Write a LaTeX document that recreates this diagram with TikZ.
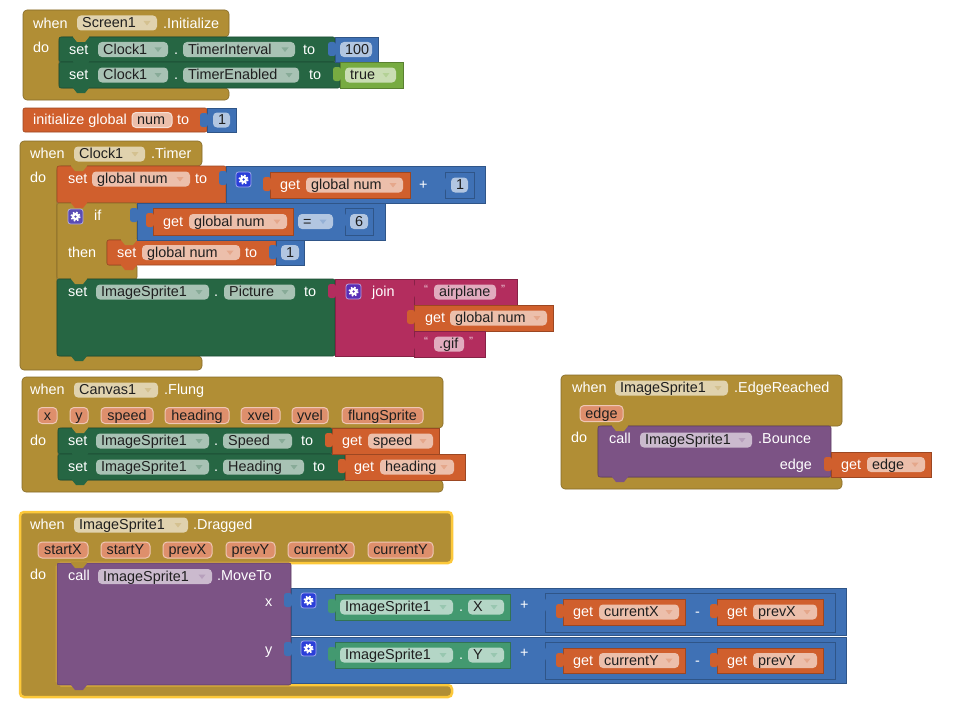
\documentclass[tikz,border=0pt]{standalone}
\usepackage{fontspec}
\setmainfont{Liberation Sans}
\definecolor{cEv}{HTML}{B18E35}
\definecolor{cSet}{HTML}{266643}
\definecolor{cGet}{HTML}{439970}
\definecolor{cVar}{HTML}{D05F2D}
\definecolor{cMath}{HTML}{3F71B5}
\definecolor{cLogic}{HTML}{77AB41}
\definecolor{cText}{HTML}{B32D5E}
\definecolor{cProc}{HTML}{7C5385}
\definecolor{cSel}{HTML}{FCC83A}
\definecolor{gMath}{HTML}{2B3FD9}
\definecolor{gIf}{HTML}{5A4CB4}
\definecolor{gJoin}{HTML}{5A2FB6}
\newcounter{nn}
\tikzset{
 wtxt/.style={anchor=west, inner sep=0pt, text=white, text height=11pt, text depth=1.4pt, font=\fontsize{14.4}{16}\selectfont},
 ptxt/.style={anchor=west, inner sep=0pt, text=black!88, text height=11pt, text depth=1.4pt, font=\fontsize{14.4}{16}\selectfont},
 qtxt/.style={anchor=west, inner sep=0pt, text=white!75!cText, font=\fontsize{12}{12}\selectfont},
 blk/.style={line width=0.6pt},
}
\newcommand\wt[3]{\stepcounter{nn}\node[wtxt] (n\thenn) at (#1,#2) {#3};}
\newcommand\wtr[3]{\stepcounter{nn}\node[wtxt,anchor=east] (n\thenn) at (#1,#2) {#3};}
\newcommand\qt[3]{\stepcounter{nn}\node[qtxt] (n\thenn) at (#1,#2) {#3};}
\newcommand\pl[6]{\fill[#1!40!white, rounded corners=4pt] (#2,#4-7.5) rectangle (#3,#4+7.5);
 \stepcounter{nn}\node[ptxt] (n\thenn) at (#2+5,#4) {#5};
 \ifnum#6=1\relax\fill[#1!55!white] (#3-13.5,#4-2) -- (#3-6.5,#4-2) -- (#3-10,#4+2.5) -- cycle;\fi}
\newcommand\prm[4]{\filldraw[fill=cVar!70!white, draw=cVar!35!white, line width=1pt, rounded corners=4pt] (#1,#3-8) rectangle (#2,#3+8);
 \stepcounter{nn}\node[ptxt,anchor=center] (n\thenn) at ({(#1+#2)/2},#3) {#4};}
\newcommand\tb[3]{\fill[#1, rounded corners=2.5pt] (#2-7,#3+5) rectangle (#2+1,#3+19);}
\newcommand\vb[5]{\filldraw[fill=#1, draw=#1!75!black, blk] (#2,#3) rectangle (#4,#5); \tb{#1}{#2}{#3}}
\newcommand\sbk[5]{\filldraw[fill=#1, draw=#1!75!black, blk, rounded corners=2pt] (#2,#3) rectangle (#4,#5);}
\newcommand\bump[3]{\fill[#1] (#2,#3-0.8) -- (#2,#3) -- (#2+4,#3+5) -- (#2+12,#3+5) -- (#2+16,#3) -- (#2+16,#3-0.8) -- cycle;}
\newcommand\ev[8]{\filldraw[fill=cEv, draw=cEv!75!black, blk, rounded corners=4pt, #8] (#1,#2) -- (#3,#2) -- (#3,#4) -- (#5,#4) -- (#5,#6) -- (#3,#6) -- (#3,#7) -- (#1,#7) -- cycle;}
\newcommand\gear[3]{\filldraw[fill=#1, draw=#1!45!white, line width=0.8pt, rounded corners=2.5pt] (#2,#3) rectangle (#2+15,#3+15);
 \draw[white, line width=1.8pt, dash pattern=on 1.6pt off 1.8pt] (#2+7.5,#3+7.5) circle (4.3);
 \fill[white, even odd rule] (#2+7.5,#3+7.5) circle (3.7) (#2+7.5,#3+7.5) circle (1.5);}
\begin{document}
\begin{tikzpicture}[x=1pt,y=-1pt]
\fill[white] (0,0) rectangle (957,709);
\useasboundingbox (0,0) rectangle (957,709);

% ---------- Screen1.Initialize ----------
\ev{23}{10}{229}{37}{59}{88}{100}{}
\wt{33}{23.5}{when}
\pl{cEv}{77}{157}{23}{Screen1}{1}
\wt{163}{23.5}{.Initialize}
\wt{33}{48}{do}
\sbk{cSet}{59}{37}{335}{62}
\sbk{cSet}{59}{62}{340}{88}
\bump{cEv}{73}{37}
\bump{cSet}{73}{62}
\bump{cSet}{73}{88}
\wt{69}{49.5}{set}
\pl{cSet}{98}{168}{49.5}{Clock1}{1}
\wt{174}{49.5}{.}
\pl{cSet}{183}{295}{49.5}{TimerInterval}{1}
\wt{303}{49.5}{to}
\vb{cMath}{335}{37}{378}{62}
\pl{cMath}{340}{372}{49.5}{100}{0}
\wt{69}{75}{set}
\pl{cSet}{98}{168}{75}{Clock1}{1}
\wt{174}{75}{.}
\pl{cSet}{183}{299}{75}{TimerEnabled}{1}
\wt{309}{75}{to}
\vb{cLogic}{340}{62}{403}{88}
\pl{cLogic}{345}{396}{75}{true}{1}

% ---------- initialize global ----------
\filldraw[fill=cVar, draw=cVar!75!black, blk, rounded corners=2pt] (23,108) rectangle (207,132);
\wt{33}{120}{initialize global}
\filldraw[fill=cVar!40!white, draw=cVar!20!white, line width=1pt, rounded corners=4pt] (132,112.5) rectangle (172,127.5);
\stepcounter{nn}\node[ptxt] (n\thenn) at (137,120) {num};
\wt{177}{120}{to}
\vb{cMath}{207}{108}{236}{132}
\pl{cMath}{213}{230}{120}{1}{0}

% ---------- Clock1.Timer ----------
\ev{20}{141}{202}{166}{57}{356}{370}{}
\wt{30}{154}{when}
\pl{cEv}{74}{145}{154}{Clock1}{1}
\wt{151}{154}{.Timer}
\wt{30}{178}{do}
\sbk{cVar}{57}{166}{226}{203}
\filldraw[fill=cEv, draw=cEv!75!black, blk, rounded corners=2pt] (57,203) -- (137,203) -- (137,240) -- (107,240) -- (107,265) -- (137,265) -- (137,279) -- (57,279) -- cycle;
\sbk{cVar}{107}{240}{276}{265}
\sbk{cSet}{57}{279}{335}{356}
\bump{cEv}{71}{166}
\bump{cVar}{71}{203}
\bump{cEv}{121}{240}
\bump{cVar}{121}{265}
\bump{cEv}{71}{279}
\bump{cSet}{71}{356}
% set global num to (+)
\wt{68}{179}{set}
\pl{cVar}{92}{190}{179}{global num}{1}
\wt{195}{179}{to}
\vb{cMath}{226}{166}{485}{203}
\gear{gMath}{236}{172}
\vb{cVar}{270}{172}{410}{198}
\wt{280}{185}{get}
\pl{cVar}{306}{403}{185}{global num}{1}
\wt{419}{185}{+}
\vb{cMath}{445}{172}{474}{198}
\pl{cMath}{451}{468}{185}{1}{0}
% if
\gear{gIf}{68}{209}
\wt{94}{216}{if}
\wt{68}{252.5}{then}
\vb{cMath}{137}{203}{385}{240}
\vb{cVar}{153}{208}{293}{235}
\wt{163}{221.5}{get}
\pl{cVar}{189}{287}{221.5}{global num}{1}
\pl{cMath}{298}{333}{221.5}{=}{1}
\vb{cMath}{345}{208}{373}{235}
\pl{cMath}{350}{368}{221.5}{6}{0}
\wt{117}{252.5}{set}
\pl{cVar}{142}{240}{252.5}{global num}{1}
\wt{245}{252.5}{to}
\vb{cMath}{276}{240}{304}{265}
\pl{cMath}{281}{299}{252.5}{1}{0}
% set ImageSprite1.Picture
\wt{68}{292}{set}
\pl{cSet}{96}{209}{292}{ImageSprite1}{1}
\wt{214}{292}{.}
\pl{cSet}{224}{295}{292}{Picture}{1}
\wt{304}{292}{to}
\vb{cText}{335}{279}{414}{356}
\gear{gJoin}{346}{284}
\wt{372}{292}{join}
\vb{cText}{414}{279}{517}{305}
\qt{424}{289}{“}
\pl{cText}{434}{496}{292}{airplane}{0}
\qt{501}{289}{”}
\vb{cVar}{414}{305}{553}{331}
\wt{425}{318}{get}
\pl{cVar}{450}{547}{318}{global num}{1}
\vb{cText}{414}{331}{485}{357}
\qt{424}{341}{“}
\pl{cText}{434}{464}{344}{.gif}{0}
\qt{469}{341}{”}

% ---------- Canvas1.Flung ----------
\ev{22}{377}{443}{428}{58}{480}{492}{}
\wt{30}{390}{when}
\pl{cEv}{74}{158}{390}{Canvas1}{1}
\wt{164}{390}{.Flung}
\prm{38}{57}{415.5}{x}
\prm{70}{88}{415.5}{y}
\prm{101}{153}{415.5}{speed}
\prm{165}{229}{415.5}{heading}
\prm{241}{280}{415.5}{xvel}
\prm{292}{328}{415.5}{yvel}
\prm{342}{423}{415.5}{flungSprite}
\wt{30}{441}{do}
\sbk{cSet}{58}{428}{332}{454}
\sbk{cSet}{58}{454}{345}{480}
\bump{cEv}{72}{428}
\bump{cSet}{72}{454}
\bump{cSet}{72}{480}
\wt{68}{441}{set}
\pl{cSet}{96}{209}{441}{ImageSprite1}{1}
\wt{214}{441}{.}
\pl{cSet}{223}{292}{441}{Speed}{1}
\wt{301}{441}{to}
\vb{cVar}{332}{428}{439}{454}
\wt{342}{441}{get}
\pl{cVar}{368}{433}{441}{speed}{1}
\wt{68}{467}{set}
\pl{cSet}{96}{209}{467}{ImageSprite1}{1}
\wt{214}{467}{.}
\pl{cSet}{223}{304}{467}{Heading}{1}
\wt{313}{467}{to}
\vb{cVar}{345}{454}{465}{480}
\wt{354}{467}{get}
\pl{cVar}{380}{454}{467}{heading}{1}

% ---------- ImageSprite1.EdgeReached ----------
\ev{561}{375}{842}{426}{598}{477}{489}{}
\wt{572}{388}{when}
\pl{cEv}{615}{728}{388}{ImageSprite1}{1}
\wt{734}{388}{.EdgeReached}
\prm{580}{623}{413.5}{edge}
\wt{571}{438}{do}
\sbk{cProc}{598}{426}{831}{477}
\bump{cEv}{612}{426}
\bump{cProc}{612}{477}
\wt{609}{439}{call}
\pl{cProc}{640}{752}{440}{ImageSprite1}{1}
\wt{758}{439}{.Bounce}
\wtr{812}{464.5}{edge}
\vb{cVar}{831}{452}{931}{477}
\wt{841}{464.5}{get}
\pl{cVar}{867}{925}{464.5}{edge}{1}

% ---------- ImageSprite1.Dragged ----------
\ev{20}{512}{452}{563}{57}{685}{697}{draw=cSel, line width=2.5pt}
\wt{30}{525}{when}
\pl{cEv}{74}{188}{525}{ImageSprite1}{1}
\wt{193}{525}{.Dragged}
\prm{38}{88}{550}{startX}
\prm{101}{150}{550}{startY}
\prm{163}{212}{550}{prevX}
\prm{226}{275}{550}{prevY}
\prm{288}{354}{550}{currentX}
\prm{368}{433}{550}{currentY}
\wt{30}{575}{do}
\sbk{cProc}{57}{563}{291}{685}
\bump{cEv}{71}{563}
\bump{cProc}{71}{685}
\wt{68}{576}{call}
\pl{cProc}{98}{212}{576.5}{ImageSprite1}{1}
\wt{217}{576}{.MoveTo}
\wt{265}{602}{x}
\wt{265}{650}{y}
% x
\vb{cMath}{291}{588}{846}{635}
\gear{gMath}{301}{593}
\vb{cGet}{335}{594}{510}{620}
\pl{cGet}{340}{453}{607}{ImageSprite1}{1}
\wt{459}{607}{.}
\pl{cGet}{468}{504}{607}{X}{1}
\wt{520}{605}{+}
\vb{cMath}{545}{593}{835}{632}
\vb{cVar}{563}{599}{685}{625}
\wt{573}{612}{get}
\pl{cVar}{599}{679}{612}{currentX}{1}
\wt{695}{612}{-}
\vb{cVar}{717}{599}{823}{625}
\wt{727}{612}{get}
\pl{cVar}{753}{817}{612}{prevX}{1}
% y
\vb{cMath}{291}{637}{846}{683}
\gear{gMath}{301}{641}
\vb{cGet}{335}{642}{510}{668}
\pl{cGet}{340}{453}{655}{ImageSprite1}{1}
\wt{459}{655}{.}
\pl{cGet}{468}{504}{655}{Y}{1}
\wt{520}{653}{+}
\vb{cMath}{545}{642}{835}{679}
\vb{cVar}{563}{648}{685}{673}
\wt{573}{660.5}{get}
\pl{cVar}{599}{679}{660.5}{currentY}{1}
\wt{695}{660.5}{-}
\vb{cVar}{717}{648}{823}{673}
\wt{727}{660.5}{get}
\pl{cVar}{753}{817}{660.5}{prevY}{1}
\end{tikzpicture}
\end{document}
